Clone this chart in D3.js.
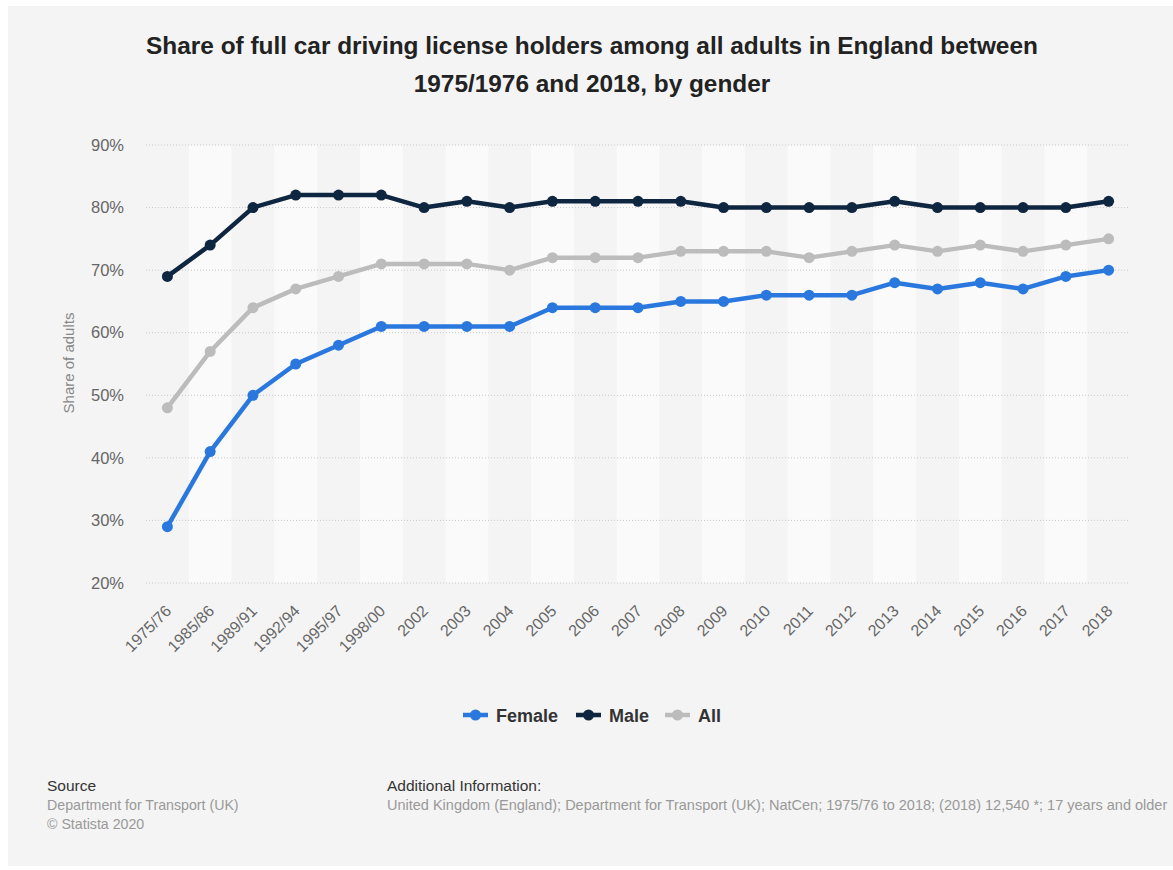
<!DOCTYPE html>
<html>
<head>
<meta charset="utf-8">
<script src="https://cdn.jsdelivr.net/npm/d3@7"></script>
<style>
  body { margin: 0; background: #ffffff; }
  text { font-family: "Liberation Sans", Arial, sans-serif; }
</style>
</head>
<body>
<div id="chart"></div>
<script>
// data
const years = ["1975/76", "1985/86", "1989/91", "1992/94", "1995/97", "1998/00", "2002", "2003", "2004", "2005", "2006", "2007", "2008", "2009", "2010", "2011", "2012", "2013", "2014", "2015", "2016", "2017", "2018"];
const female = [29, 41, 50, 55, 58, 61, 61, 61, 61, 64, 64, 64, 65, 65, 66, 66, 66, 68, 67, 68, 67, 69, 70];
const male = [69, 74, 80, 82, 82, 82, 80, 81, 80, 81, 81, 81, 81, 80, 80, 80, 80, 81, 80, 80, 80, 80, 81];
const all = [48, 57, 64, 67, 69, 71, 71, 71, 70, 72, 72, 72, 73, 73, 73, 72, 73, 74, 73, 74, 73, 74, 75];
const yTicks = [20, 30, 40, 50, 60, 70, 80, 90];

const series = [
  { name: "Female", values: female, color: "#2a78de" },
  { name: "Male", values: male, color: "#0f2640" },
  { name: "All", values: all, color: "#bcbcbc" },
];

const WIDTH = 1173;
const HEIGHT = 870;
const PLOT_LEFT = 146, PLOT_RIGHT = 1130, PLOT_TOP = 145, PLOT_BOTTOM = 583;

const svg = d3
  .select("#chart")
  .append("svg")
  .attr("width", WIDTH)
  .attr("height", HEIGHT);

// panel background
svg.append("rect")
  .attr("x", 8).attr("y", 6)
  .attr("width", WIDTH - 8).attr("height", 860)
  .attr("fill", "#f4f4f4");

// title
svg.append("text")
  .attr("x", 592).attr("y", 54)
  .attr("text-anchor", "middle")
  .attr("font-size", "24.4px").attr("font-weight", "bold").attr("fill", "#222")
  .text("Share of full car driving license holders among all adults in England between");
svg.append("text")
  .attr("x", 592).attr("y", 92)
  .attr("text-anchor", "middle")
  .attr("font-size", "24.4px").attr("font-weight", "bold").attr("fill", "#222")
  .text("1975/1976 and 2018, by gender");

// scales
const x = d3.scaleBand().domain(years).range([PLOT_LEFT, PLOT_RIGHT]);
const y = d3.scaleLinear().domain([20, 90]).range([PLOT_BOTTOM, PLOT_TOP]);

// alternating column stripes
svg.append("g")
  .selectAll("rect")
  .data(years.filter((d, i) => i % 2 === 1))
  .enter()
  .append("rect")
  .attr("x", (d) => x(d))
  .attr("y", PLOT_TOP)
  .attr("width", x.bandwidth())
  .attr("height", PLOT_BOTTOM - PLOT_TOP)
  .attr("fill", "#fafafa");

// gridlines
svg.append("g")
  .selectAll("line")
  .data(yTicks)
  .enter()
  .append("line")
  .attr("x1", PLOT_LEFT).attr("x2", PLOT_RIGHT)
  .attr("y1", (d) => y(d)).attr("y2", (d) => y(d))
  .attr("stroke", "#c8c8c8")
  .attr("stroke-width", 1)
  .attr("stroke-dasharray", "1,2");

// y axis
const yAxis = svg.append("g")
  .attr("transform", `translate(${PLOT_LEFT - 19}, 0)`)
  .call(d3.axisLeft(y).tickValues(yTicks).tickFormat((d) => d + "%").tickSize(0));
yAxis.select(".domain").remove();
yAxis.selectAll("text")
  .attr("font-size", "16.5px").attr("fill", "#666")
  .attr("font-family", "Liberation Sans, Arial, sans-serif");

svg.append("text")
  .attr("transform", `translate(74, ${(PLOT_TOP + PLOT_BOTTOM) / 2 - 1}) rotate(-90)`)
  .attr("text-anchor", "middle")
  .attr("font-size", "15px").attr("fill", "#888")
  .text("Share of adults");

// x axis
const xAxis = svg.append("g")
  .attr("transform", `translate(0, ${PLOT_BOTTOM})`)
  .call(d3.axisBottom(x).tickSize(0));
xAxis.select(".domain").remove();
xAxis.selectAll("text")
  .attr("font-size", "16px").attr("fill", "#666")
  .attr("font-family", "Liberation Sans, Arial, sans-serif")
  .attr("text-anchor", "end")
  .attr("y", 0)
  .attr("dy", 0)
  .attr("transform", "translate(5, 29) rotate(-45)");

// lines and markers
const line = d3.line()
  .x((d, i) => x(years[i]) + x.bandwidth() / 2)
  .y((d) => y(d));

const drawOrder = [series[2], series[0], series[1]];
drawOrder.forEach((s) => {
  svg.append("path")
    .datum(s.values)
    .attr("d", line)
    .attr("fill", "none")
    .attr("stroke", s.color)
    .attr("stroke-width", 4.5)
    .attr("stroke-linejoin", "round");
  svg.append("g")
    .selectAll("circle")
    .data(s.values)
    .enter()
    .append("circle")
    .attr("cx", (d, i) => x(years[i]) + x.bandwidth() / 2)
    .attr("cy", (d) => y(d))
    .attr("r", 5.5)
    .attr("fill", s.color);
});

// legend
const legendX = [463, 576, 665];
const legend = svg.append("g");
series.forEach((s, i) => {
  const g = legend.append("g").attr("transform", `translate(${legendX[i]}, 715)`);
  g.append("line")
    .attr("x1", 0).attr("x2", 25)
    .attr("stroke", s.color).attr("stroke-width", 4.5);
  g.append("circle").attr("cx", 12.5).attr("r", 5.5).attr("fill", s.color);
  g.append("text")
    .attr("x", 33).attr("y", 6.5)
    .attr("font-size", "18px").attr("font-weight", "bold").attr("fill", "#333")
    .text(s.name);
});

// footer
svg.append("text").attr("x", 47).attr("y", 791)
  .attr("font-size", "15.5px").attr("fill", "#333").text("Source");
svg.append("text").attr("x", 47).attr("y", 810)
  .attr("font-size", "14.2px").attr("fill", "#999").text("Department for Transport (UK)");
svg.append("text").attr("x", 47).attr("y", 829)
  .attr("font-size", "14.2px").attr("fill", "#999").text("© Statista 2020");
svg.append("text").attr("x", 387).attr("y", 791)
  .attr("font-size", "15.5px").attr("fill", "#333").text("Additional Information:");
svg.append("text").attr("x", 387).attr("y", 810)
  .attr("font-size", "14.5px").attr("fill", "#999")
  .text("United Kingdom (England); Department for Transport (UK); NatCen; 1975/76 to 2018; (2018) 12,540 *; 17 years and older");
</script>
</body>
</html>
